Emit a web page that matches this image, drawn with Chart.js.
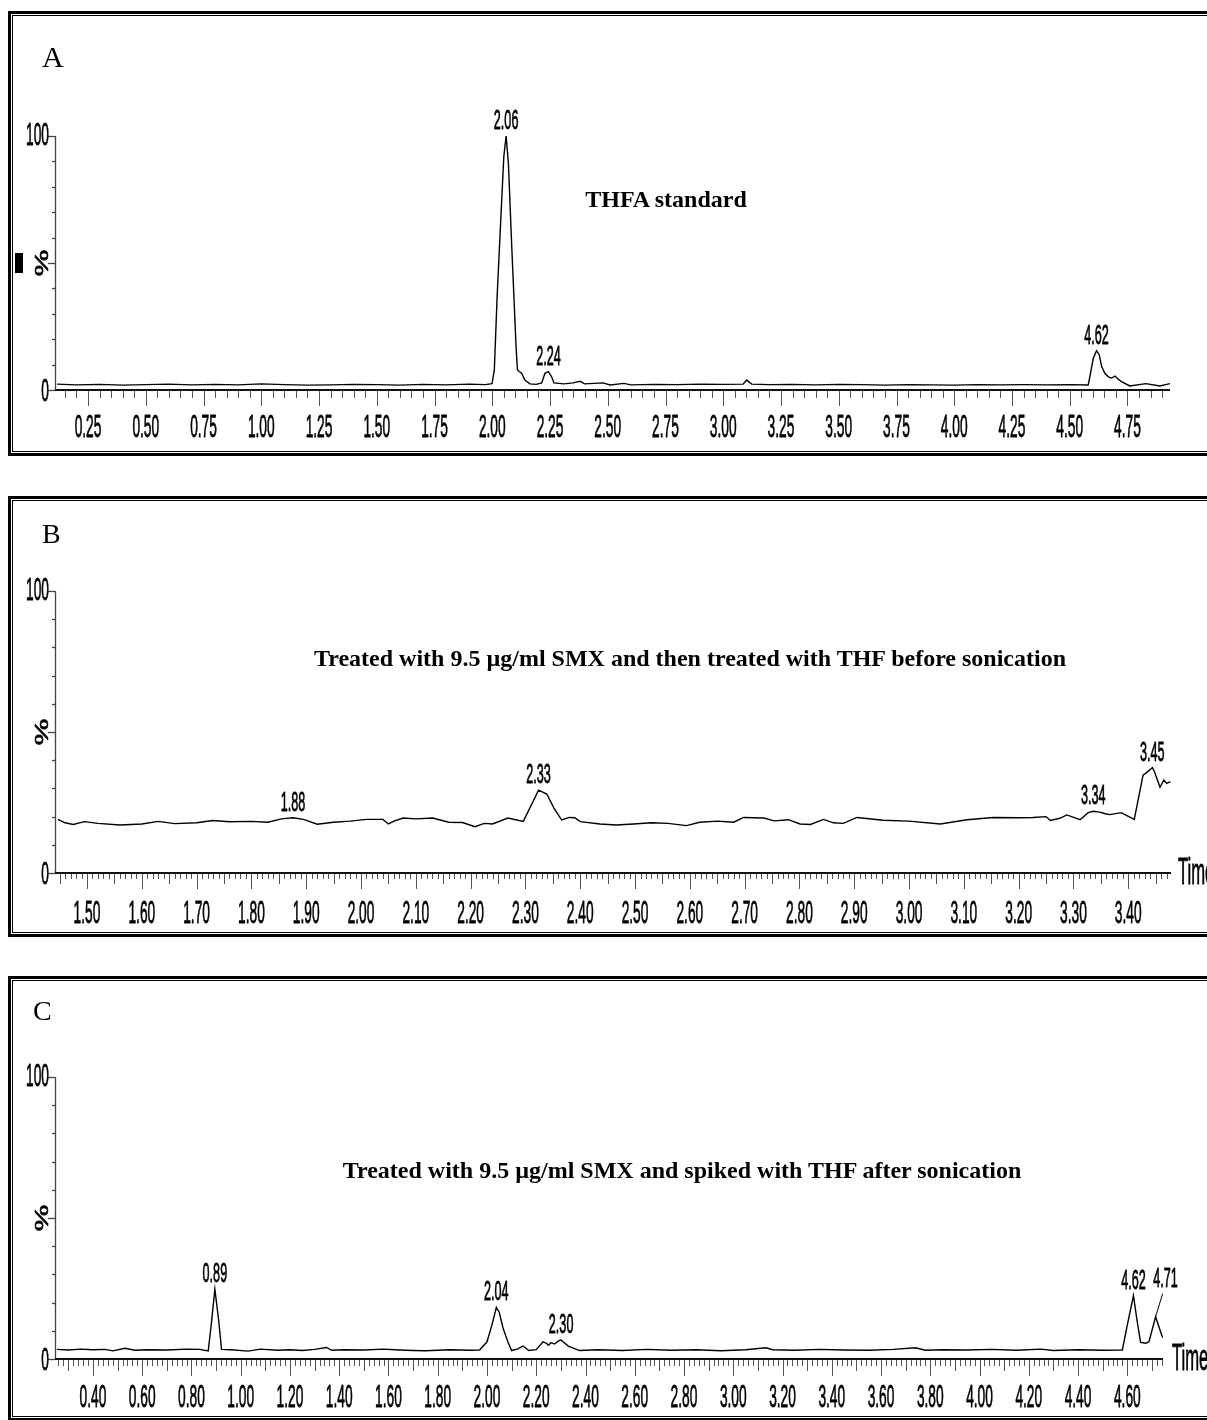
<!DOCTYPE html>
<html>
<head>
<meta charset="utf-8">
<script src="https://cdn.jsdelivr.net/npm/chart.js@4.4.1/dist/chart.umd.min.js"></script>
<style>
  body { margin: 0; width: 1207px; height: 1420px; overflow: hidden; background: #fff; position: relative; }
  .panel { position: absolute; left: 8px; width: 1215px; border: 3px solid #000; box-sizing: border-box; }
  .panel::after { content: ''; position: absolute; left: 1px; top: 1px; right: 1px; bottom: 1px; border: 1px solid #000; }
  canvas { position: absolute; left: 0; z-index: 2; }
  .letter { position: absolute; font-family: "Liberation Serif", "Times New Roman", serif; z-index: 3; }
  .title { position: absolute; font-family: "Liberation Serif", "Times New Roman", serif; font-weight: bold; white-space: nowrap; transform: translateX(-50%); z-index: 3; }
</style>
</head>
<body>
<div class="panel" style="top:11px;height:445px"></div>
<div class="panel" style="top:496px;height:441px"></div>
<div class="panel" style="top:976px;height:445px"></div>
<div style="position:absolute;left:15px;top:253px;width:8px;height:20px;background:#000;z-index:3"></div>

<div class="letter" style="left:42px;top:42px;font-size:30px;line-height:30px">A</div>
<div class="letter" style="left:42px;top:520px;font-size:28px;line-height:28px">B</div>
<div class="letter" style="left:33px;top:997px;font-size:28px;line-height:28px">C</div>

<div class="title" style="left:666px;top:187px;font-size:24px;line-height:24px">THFA standard</div>
<div class="title" style="left:690px;top:646px;font-size:24px;line-height:24px">Treated with 9.5 µg/ml SMX and then treated with THF before sonication</div>
<div class="title" style="left:682px;top:1158px;font-size:24px;line-height:24px">Treated with 9.5 µg/ml SMX and spiked with THF after sonication</div>

<canvas id="chartA" width="1207" height="434" style="top:16px"></canvas>
<canvas id="chartB" width="1207" height="431" style="top:501px"></canvas>
<canvas id="chartC" width="1207" height="437" style="top:981px"></canvas>

<script>
// A: THFA standard
const timeA = [0.116,0.2,0.3,0.4,0.5,0.6,0.7,0.8,0.9,1.0,1.1,1.2,1.3,1.4,1.5,1.6,1.7,1.8,1.9,1.97,
  1.999,2.009,2.021,2.036,2.05,2.06,2.07,2.085,2.103,2.109,2.118,2.127,2.141,2.163,2.19,2.214,2.228,2.243,2.257,2.267,
  2.31,2.35,2.38,2.4,2.44,2.48,2.51,2.57,2.6,2.7,2.8,2.9,3.0,3.086,3.101,3.123,3.2,3.3,3.4,3.5,
  3.6,3.7,3.8,3.9,4.0,4.1,4.2,4.3,4.4,4.5,4.58,4.59,4.602,4.616,4.628,4.638,4.652,4.667,4.681,4.696,
  4.71,4.724,4.76,4.83,4.89,4.934];
const signalA = [2.3,2.0,2.2,1.9,2.1,2.3,2.0,2.2,2.0,2.4,2.1,1.9,2.0,2.2,2.1,1.9,2.2,2.0,2.3,2.1,
  2.5,8,36.7,65.6,91.9,100,89,55,17,7.9,7.2,6.6,3.9,2.4,2.2,2.8,6.6,7.2,5.2,2.8,
  2.4,2.8,3.4,2.4,2.6,2.8,2.0,2.6,2.0,2.2,2.1,2.3,2.2,2.3,3.9,2.3,2.1,2.2,2.0,2.2,
  2.1,1.9,2.1,2.0,1.9,2.1,2.0,2.1,2.0,2.1,2.0,6.6,12.5,15.5,13.8,9.2,6.6,5.2,4.7,5.5,
  4.2,3.3,1.6,2.5,1.6,2.5];
const tickLabelsA = ['0.25','0.50','0.75','1.00','1.25','1.50','1.75','2.00','2.25','2.50',
  '2.75','3.00','3.25','3.50','3.75','4.00','4.25','4.50','4.75'];
const peakLabelsA = ['2.06','2.24','4.62'];

// B: SMX, THF before sonication
const timeB = [1.447,1.46,1.475,1.495,1.52,1.56,1.6,1.63,1.66,1.7,1.73,1.76,1.8,1.83,1.855,1.876,1.895,1.92,1.95,1.98,
  2.01,2.04,2.05,2.06,2.077,2.1,2.131,2.16,2.185,2.208,2.225,2.24,2.268,2.296,2.31,2.324,2.339,2.352,2.366,2.38,
  2.39,2.40,2.436,2.466,2.497,2.53,2.56,2.594,2.618,2.65,2.68,2.698,2.735,2.754,2.78,2.801,2.82,2.844,2.862,2.88,
  2.905,2.953,3.0,3.057,3.106,3.153,3.2,3.226,3.25,3.258,3.275,3.288,3.312,3.327,3.336,3.348,3.358,3.366,3.387,3.411,
  3.427,3.433,3.444,3.448,3.458,3.465,3.47,3.477];
const signalB = [19.0,17.8,17.2,18.2,17.6,17.0,17.4,18.3,17.5,17.8,18.6,18.2,18.3,18.0,19.2,19.6,19.0,17.3,18.0,18.4,
  19.0,19.0,17.4,18.4,19.5,19.2,19.5,18.0,17.9,16.4,17.6,17.4,19.5,18.3,23.8,29.4,28.0,23.0,18.8,19.7,
  19.6,18.2,17.4,17.0,17.4,17.8,17.6,16.8,18.0,18.4,18.0,19.7,19.5,18.5,18.9,17.4,17.2,19.0,17.8,17.6,
  19.7,18.7,18.4,17.4,18.9,19.7,19.6,19.7,20.0,18.6,19.4,20.6,18.9,21.4,21.9,21.6,21.0,20.7,21.4,19.0,
  34.7,35.5,37.4,35.8,30.4,33.0,31.8,32.4];
const tickLabelsB = ['1.50','1.60','1.70','1.80','1.90','2.00','2.10','2.20','2.30','2.40',
  '2.50','2.60','2.70','2.80','2.90','3.00','3.10','3.20','3.30','3.40'];
const peakLabelsB = ['1.88','2.33','3.34','3.45'];

// C: SMX, spiked with THF after sonication
const timeC = [0.253,0.3,0.35,0.4,0.45,0.481,0.53,0.57,0.62,0.7,0.78,0.834,0.868,0.88,0.895,0.91,0.922,0.96,1.03,1.08,
  1.15,1.2,1.25,1.3,1.348,1.37,1.42,1.5,1.58,1.645,1.7,1.75,1.85,1.93,1.97,2.0,2.02,2.038,2.05,2.065,
  2.085,2.1,2.125,2.146,2.17,2.2,2.227,2.24,2.25,2.26,2.275,2.29,2.301,2.31,2.33,2.376,2.45,2.55,2.65,2.75,
  2.85,2.95,3.05,3.133,3.16,3.25,3.35,3.45,3.55,3.65,3.74,3.78,3.85,3.95,4.05,4.15,4.25,4.3,4.4,4.5,
  4.58,4.60,4.625,4.64,4.654,4.675,4.688,4.715,4.73,4.742,4.753];
const signalC = [3.4,3.2,3.5,3.3,3.4,2.9,3.8,3.1,3.3,3.2,3.5,3.4,2.9,12,24.7,14,3.4,3.3,2.8,3.5,
  3.1,3.3,3.0,3.4,4.1,3.1,3.3,3.2,3.5,3.2,3.0,2.9,3.3,3.1,3.2,6.1,12,18.3,16.5,11,
  6.0,3.0,3.6,4.6,3.0,3.3,6.1,5.6,4.9,5.8,5.3,6.4,6.7,6.0,4.6,3.0,3.3,3.0,3.4,3.1,
  3.3,2.9,3.3,4.0,3.3,3.1,3.4,3.2,3.1,3.4,4.0,3.1,3.3,3.2,3.4,3.1,3.5,3.0,3.3,3.1,
  3.2,12,22.5,13.4,5.9,5.6,6.1,15.0,11,7.9,7.0];
const tickLabelsC = ['0.40','0.60','0.80','1.00','1.20','1.40','1.60','1.80','2.00','2.20','2.40',
  '2.60','2.80','3.00','3.20','3.40','3.60','3.80','4.00','4.20','4.40','4.60'];
const peakLabelsC = ['0.89','2.04','2.30','4.62','4.71'];

const NARROW = '"Liberation Sans", Arial, sans-serif';

function narrowText(ctx, txt, x, y, size, sx, sy, align, baseline, rot) {
  ctx.save();
  ctx.translate(x, y);
  if (rot) ctx.rotate(rot);
  ctx.scale(sx, sy);
  ctx.font = size + 'px ' + NARROW;
  ctx.textAlign = align;
  ctx.textBaseline = baseline;
  ctx.fillStyle = '#000';
  ctx.strokeStyle = '#000';
  ctx.lineWidth = 0.8;
  ctx.lineJoin = 'round';
  ctx.fillText(txt, 0, 0);
  ctx.strokeText(txt, 0, 0);
  ctx.restore();
}

// axes, ticks and peak labels drawn from the chart's own scales
const chromPlugin = {
  id: 'chrom',
  afterDraw(chart, args, o) {
    const { ctx, chartArea: area } = chart;
    const xs = chart.scales.x, ys = chart.scales.y;
    ctx.save();

    // y axis
    ctx.strokeStyle = '#444';
    ctx.lineWidth = 1.3;
    ctx.beginPath();
    ctx.moveTo(area.left + 0.5, ys.getPixelForValue(100));
    ctx.lineTo(area.left + 0.5, ys.getPixelForValue(0));
    ctx.stroke();
    for (let v = 0; v <= 100; v += 10) {
      const py = Math.round(ys.getPixelForValue(v)) + 0.5;
      const len = (v % 50 === 0) ? 7 : 3;
      ctx.beginPath();
      ctx.moveTo(area.left, py);
      ctx.lineTo(area.left - len, py);
      ctx.stroke();
    }
    narrowText(ctx, '100', area.left - 6, ys.getPixelForValue(100), 32, 0.43, 1, 'right', 'middle');
    narrowText(ctx, '0', area.left - 6, ys.getPixelForValue(0) + 2, 32, 0.43, 1, 'right', 'middle');
    narrowText(ctx, '%', area.left - 12, ys.getPixelForValue(50), 26, 1.15, 0.72, 'center', 'middle', -Math.PI / 2);

    // x axis line
    const axisY = ys.getPixelForValue(0);
    ctx.strokeStyle = '#111';
    ctx.lineWidth = 2;
    ctx.beginPath();
    ctx.moveTo(area.left, axisY);
    ctx.lineTo(area.right, axisY);
    ctx.stroke();

    // x ticks
    ctx.strokeStyle = '#555';
    ctx.lineWidth = 1;
    const n0 = Math.ceil(xs.min / o.step - 1e-6), n1 = Math.floor(xs.max / o.step + 1e-6);
    for (let n = n0; n <= n1; n++) {
      const px = Math.round(xs.getPixelForValue(n * o.step)) + 0.5;
      let len = o.minorLen;
      if (n % o.majorEvery === 0) len = o.majorLen;
      else if (o.midEvery && n % o.midEvery === 0) len = o.midLen;
      ctx.beginPath();
      ctx.moveTo(px, axisY + 1);
      ctx.lineTo(px, axisY + 1 + len);
      ctx.stroke();
    }
    o.tickLabels.forEach(lbl => {
      narrowText(ctx, lbl, xs.getPixelForValue(parseFloat(lbl)), axisY + o.labelOffset, 32, 0.43, 1, 'center', 'alphabetic');
    });
    if (o.timeLabel) {
      narrowText(ctx, 'Time', area.right + o.timeGap, axisY + 1, 37, 0.45, 1, 'left', 'middle');
    }

    // peak labels
    const ds = chart.data.datasets[0].data;
    o.peaks.forEach(lbl => {
      const t = parseFloat(lbl);
      let best = null;
      ds.forEach(p => { if (Math.abs(p.x - t) <= 0.02 && (!best || p.y > best.y)) best = p; });
      const ax = xs.getPixelForValue(best.x), ay = ys.getPixelForValue(best.y);
      const lead = o.leaders && o.leaders[lbl];
      if (lead) {
        ctx.strokeStyle = '#000';
        ctx.lineWidth = 1;
        ctx.beginPath();
        ctx.moveTo(ax + lead.lx, ay + lead.ly);
        ctx.lineTo(ax, ay);
        ctx.stroke();
        narrowText(ctx, lbl, ax + lead.dx, ay + lead.dy, 28, 0.45, 1, 'center', 'alphabetic');
      } else {
        narrowText(ctx, lbl, ax, ay - 7, 28, 0.45, 1, 'center', 'alphabetic');
      }
    });
    ctx.restore();
  }
};

function makeChart(id, times, signal, xMin, xMax, pad, tickOpts) {
  const points = times.map((t, i) => ({ x: t, y: signal[i] }));
  return new Chart(document.getElementById(id), {
    type: 'line',
    data: {
      datasets: [{
        data: points,
        borderColor: '#000',
        borderWidth: 1.4,
        pointRadius: 0,
        tension: 0,
        fill: false
      }]
    },
    options: {
      responsive: false,
      animation: false,
      devicePixelRatio: 1,
      layout: { padding: pad },
      plugins: {
        legend: { display: false },
        tooltip: { enabled: false },
        chrom: tickOpts
      },
      scales: {
        x: {
          type: 'linear', min: xMin, max: xMax,
          grid: { display: false }, border: { display: false },
          ticks: { display: false },
          afterFit: s => { s.height = 0; }
        },
        y: {
          min: 0, max: 100,
          grid: { display: false }, border: { display: false },
          ticks: { display: false },
          afterFit: s => { s.width = 0; }
        }
      }
    },
    plugins: [chromPlugin]
  });
}

makeChart('chartA', timeA, signalA, 0.107, 4.934,
  { left: 55, right: 37, top: 120, bottom: 60 },
  { step: 0.05, majorEvery: 5, midEvery: 0, minorLen: 7, midLen: 7, majorLen: 15,
    tickLabels: tickLabelsA, labelOffset: 47, peaks: peakLabelsA, timeLabel: false });

makeChart('chartB', timeB, signalB, 1.4416, 3.478,
  { left: 55, right: 36, top: 90, bottom: 59 },
  { step: 0.01, majorEvery: 10, midEvery: 5, minorLen: 5, midLen: 10, majorLen: 15,
    tickLabels: tickLabelsB, labelOffset: 50, peaks: peakLabelsB, timeLabel: true, timeGap: 7 });

makeChart('chartC', timeC, signalC, 0.2458, 4.745,
  { left: 55, right: 44, top: 96, bottom: 59 },
  { step: 0.02, majorEvery: 10, midEvery: 5, minorLen: 6, midLen: 11, majorLen: 16,
    tickLabels: tickLabelsC, labelOffset: 48, peaks: peakLabelsC, timeLabel: true, timeGap: 9,
    leaders: { '4.71': { dx: 10, dy: -30, lx: 7, ly: -23 } } });
</script>
</body>
</html>
